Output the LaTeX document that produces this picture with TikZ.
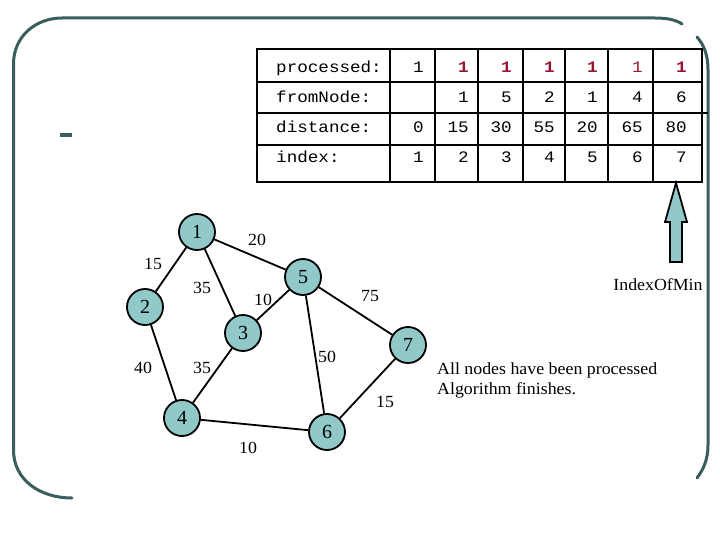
\documentclass[tikz,border=0pt]{standalone}
\usepackage{fontspec}
\setmainfont{Liberation Serif}
\newfontfamily\widefont{Liberation Serif}[FakeStretch=1.05]
\setmonofont{Liberation Mono}[FakeStretch=1.1]
\usetikzlibrary{positioning}
\definecolor{nodeteal}{RGB}{145,201,201}
\definecolor{frameteal}{RGB}{58,94,94}
\definecolor{markred}{RGB}{150,20,50}

\begin{document}
\begin{tikzpicture}[x=1pt, y=-1pt,
  vertex/.style={circle, draw, line width=1.8pt, fill=nodeteal, minimum size=36pt, inner sep=0pt, font=\fontsize{20}{20}\selectfont},
  weight/.style={font=\widefont\fontsize{17}{17}\selectfont, inner sep=0pt},
  note/.style={font=\widefont\fontsize{17}{20}\selectfont, inner sep=0pt, align=left},
  edgeline/.style={line width=1.8pt},
  grid/.style={line width=1.8pt},
  frame/.style={line width=3pt, frameteal, line cap=round},
  cellval/.style={font=\ttfamily\fontsize{16}{16}\selectfont, anchor=base east, inner sep=0pt},
  rowname/.style={font=\ttfamily\fontsize{16}{16}\selectfont, anchor=base west, inner sep=0pt},
  plain/.style={},
  warm/.style={text=markred},
  hot/.style={text=markred, font=\ttfamily\bfseries\fontsize{16}{16}\selectfont}
]
\useasboundingbox (0,0) rectangle (720,540);

% frame
\draw[frame] (13.5,450) -- (13.5,64) .. controls (13.5,36) and (36,18) .. (62,18) -- (655,18)
  .. controls (668,18) and (676,20) .. (682,24);
\draw[frame] (697,37) .. controls (704,45) and (708,55) .. (708,70) -- (708,445)
  .. controls (708,460) and (703,470) .. (697,478);
\draw[frame] (13.5,450) .. controls (13.5,480) and (40,498) .. (72,498);
\fill[frameteal] (60,133) rectangle (72,137);

% table
\draw[grid] (257,49) rectangle (702,182);
\draw[grid] (257,82) -- (702,82);
\draw[grid] (257,113) -- (708,113);
\draw[grid] (257,145) -- (702,145);
\foreach \cx in {390,435,478,523,565,608,653}
  \draw[grid] (\cx,49) -- (\cx,182);

\node[rowname] (lproc) at (276,73) {processed:};
\node[rowname] (lfrom) at (276,103) {fromNode:};
\node[rowname] (ldist) at (276,133) {distance:};
\node[rowname] (lidx) at (276,163) {index:};

\foreach \cx/\s [count=\i] in {424/plain,469/hot,512/hot,555/hot,598/hot,643/warm,687/hot}
  \node[cellval, \s] (p\i) at (\cx,73) {1};
\foreach \cx/\v [count=\i from 2] in {469/1,512/5,555/2,598/1,643/4,687/6}
  \node[cellval] (f\i) at (\cx,103) {\v};
\foreach \cx/\v [count=\i] in {424/0,469/15,512/30,555/55,598/20,643/65,687/80}
  \node[cellval] (d\i) at (\cx,133) {\v};
\foreach \cx/\v [count=\i] in {424/1,469/2,512/3,555/4,598/5,643/6,687/7}
  \node[cellval] (x\i) at (\cx,163) {\v};

% pointer
\draw[line width=1.8pt, fill=nodeteal] (676,183) -- (687,222) -- (682,222) -- (682,262)
  -- (670,262) -- (670,222) -- (665,222) -- cycle;
\node[note] (minlbl) at (658,285) {IndexOfMin};

% graph
\node[vertex] (n1) at (197,232) {1};
\node[vertex] (n2) at (145,307) {2};
\node[vertex] (n3) at (243,333) {3};
\node[vertex] (n4) at (182,418) {4};
\node[vertex] (n5) at (303,277) {5};
\node[vertex] (n6) at (327,432) {6};
\node[vertex] (n7) at (408,345) {7};

\foreach \a/\b in {1/2,1/3,1/5,2/4,3/4,3/5,4/6,5/6,5/7,6/7}
  \draw[edgeline] (n\a) -- (n\b);

\node[weight] (w15) at (257,240) {20};
\node[weight] (w12) at (153,264) {15};
\node[weight] (w13) at (202,288) {35};
\node[weight] (w35) at (263,300) {10};
\node[weight] (w57) at (370,296) {75};
\node[weight] (w24) at (143,368) {40};
\node[weight] (w34) at (202,368) {35};
\node[weight] (w56) at (327,357) {50};
\node[weight] (w67) at (385,402) {15};
\node[weight] (w46) at (248,448) {10};

\node[note, anchor=north west] (done) at (437,363) {All nodes have been processed\\Algorithm finishes.};
\end{tikzpicture}
\end{document}
